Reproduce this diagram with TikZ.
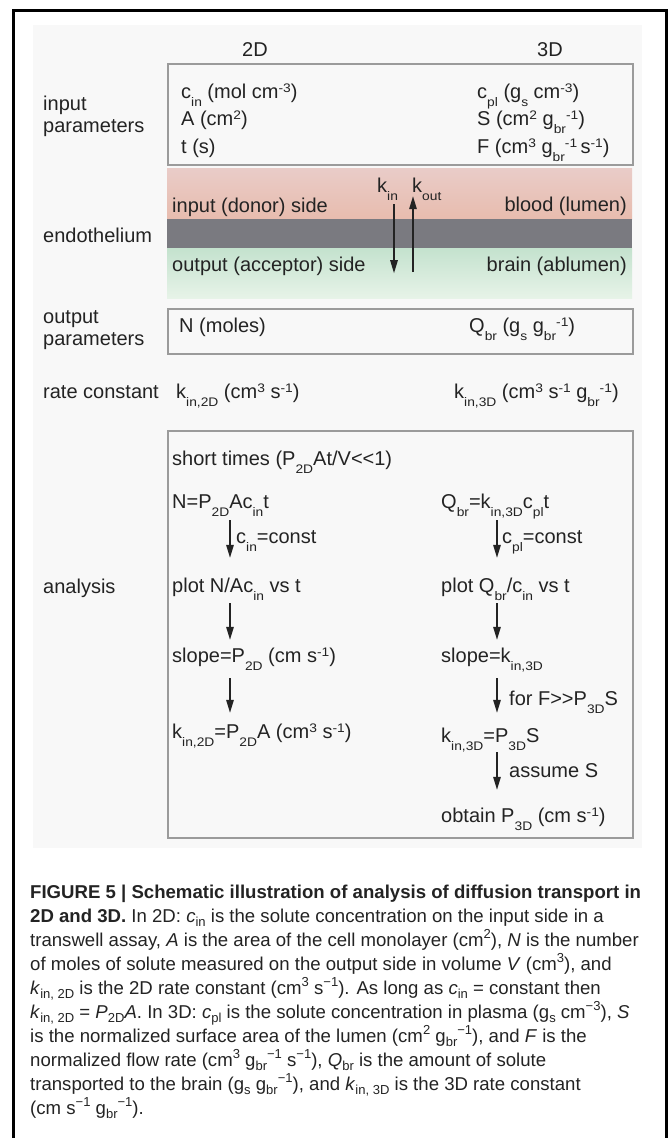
\documentclass[tikz,border=0pt]{standalone}
\usepackage{fontspec}
\setmainfont{Liberation Sans}
\newfontfamily\capfont{Liberation Sans}
\usepackage{graphicx}
\usetikzlibrary{arrows.meta,calc}
\newcommand{\sbs}[1]{\raisebox{-0.4em}{\scalebox{0.69}[0.62]{#1}}}
\newcommand{\sps}[1]{\raisebox{0.3em}{\scalebox{0.69}[0.62]{#1}}}
\newcommand{\csb}[1]{\raisebox{-0.22em}{\scalebox{0.7}{#1}}}
\newcommand{\csp}[1]{\raisebox{0.42em}{\scalebox{0.7}{#1}}}
\newcommand{\llt}{<\kern0pt<}
\newcommand{\ggt}{>\kern0pt>}
\definecolor{pinkT}{RGB}{233,204,200}
\definecolor{pinkB}{RGB}{232,188,174}
\definecolor{endogray}{RGB}{122,122,128}
\definecolor{greenT}{RGB}{196,226,206}
\definecolor{greenB}{RGB}{231,243,232}
\definecolor{boxgray}{RGB}{155,155,155}
\definecolor{bgc}{RGB}{248,248,248}
\definecolor{ink}{RGB}{35,35,35}
\begin{document}
\begin{tikzpicture}[x=1pt,y=-1pt,
  txt/.style={anchor=base west, inner sep=0pt, text height=15pt, text depth=5pt,
              font=\fontsize{20}{24}\selectfont, text=ink},
  hdr/.style={anchor=base, inner sep=0pt, font=\fontsize{20}{24}\selectfont, text=ink},
  pbox/.style={draw=boxgray, line width=2pt, anchor=north west, inner sep=0pt},
  band/.style={anchor=north west, inner sep=0pt, minimum width=465pt},
  arr/.style={line width=1.4pt, draw=ink, -{Triangle[length=13pt,width=7.5pt]}},
  captxt/.style={anchor=base west, inner sep=0pt, font=\capfont\fontsize{18.6}{22}\selectfont, text=ink}]
\useasboundingbox (0,0) rectangle (671,1138);
% background and frame
\fill[bgc] (33,25) rectangle (642,848);
\draw[line width=3pt] (13,1142) -- (13,10) -- (666,10) -- (666,1142);

% headers
\node[hdr] (h2) at (255,56) {2D};
\node[hdr] (h3) at (550,56) {3D};

% input parameters
\node[pbox, minimum width=465pt, minimum height=101pt] (inbox) at (167,63) {};
\node[txt] (lin1) at (43,110) {input};
\node[txt] (lin2) at (43,132) {parameters};
\node[txt] (i1) at (181,98) {c\sbs{in} (mol cm\sps{-3})};
\node[txt] (i2) at (181,125) {A (cm\sps{2})};
\node[txt] (i3) at (181,153) {t (s)};
\node[txt] (j1) at (477,98) {c\sbs{pl} (g\sbs{s} cm\sps{-3})};
\node[txt] (j2) at (477,125) {S (cm\sps{2} g\sbs{br}\sps{-1})};
\node[txt] (j3) at (477,153) {F (cm\sps{3} g\sbs{br}\sps{-1}\,s\sps{-1})};

% endothelium bands
\node[band, minimum height=51pt, top color=pinkT, bottom color=pinkB] (pink) at (167,168) {};
\node[band, minimum height=29pt, fill=endogray] (endo) at (167,219) {};
\node[band, minimum height=50pt, top color=greenT, bottom color=greenB] (green) at (167,248) {};
\node[txt] (lendo) at (43,242) {endothelium};
\node[txt] (donor) at (172,212) {input (donor) side};
\node[txt, anchor=base east] (blood) at (627,211) {blood (lumen)};
\node[txt] (acceptor) at (172,271) {output (acceptor) side};
\node[txt, anchor=base east] (brain) at (627,271) {brain (ablumen)};
\node[txt] (kin) at (377,192) {k\sbs{in}};
\node[txt] (kout) at (412,192) {k\sbs{out}};
\coordinate (xdn) at (394,0);
\coordinate (xup) at (413,0);
\draw[arr, shorten <=7pt] (kin.south -| xdn) -- (green.center -| xdn);
\draw[arr, shorten <=1pt, shorten >=-1pt] (green.center -| xup) -- (kout.south -| xup);

% output parameters
\node[pbox, minimum width=465pt, minimum height=45pt] (outbox) at (167,308) {};
\node[txt] (lout1) at (43,323) {output};
\node[txt] (lout2) at (43,345) {parameters};
\node[txt] (N) at (179,332) {N (moles)};
\node[txt] (Q) at (469,332) {Q\sbs{br} (g\sbs{s} g\sbs{br}\sps{-1})};

% rate constant
\node[txt] (lrate) at (43,398) {rate constant};
\node[txt] (k2) at (176,398) {k\sbs{in,2D} (cm\sps{3} s\sps{-1})};
\node[txt] (k3) at (454,398) {k\sbs{in,3D} (cm\sps{3} s\sps{-1} g\sbs{br}\sps{-1})};

% analysis
\node[pbox, minimum width=465pt, minimum height=407pt] (anbox) at (167,430) {};
\node[txt] (lana) at (43,593) {analysis};
\node[txt] (short) at (172,465) {short times (P\sbs{2D}At/V\llt1)};
\node[txt] (L1) at (172,508) {N=P\sbs{2D}Ac\sbs{in}t};
\node[txt] (R1) at (441,508) {Q\sbs{br}=k\sbs{in,3D}c\sbs{pl}t};
\node[txt] (L2) at (172,592) {plot N/Ac\sbs{in} vs t};
\node[txt] (R2) at (441,592) {plot Q\sbs{br}/c\sbs{in} vs t};
\node[txt] (L3) at (172,662) {slope=P\sbs{2D} (cm s\sps{-1})};
\node[txt] (R3) at (441,662) {slope=k\sbs{in,3D}};
\node[txt] (L4) at (172,738) {k\sbs{in,2D}=P\sbs{2D}A (cm\sps{3} s\sps{-1})};
\node[txt] (R4) at (441,742) {k\sbs{in,3D}=P\sbs{3D}S};
\node[txt] (R5) at (441,822) {obtain P\sbs{3D} (cm s\sps{-1})};
\node[txt] (lc1) at (236,543) {c\sbs{in}=const};
\node[txt] (lc2) at (502,543) {c\sbs{pl}=const};
\node[txt] (lc3) at (509,705) {for F\ggt P\sbs{3D}S};
\node[txt] (lc4) at (509,777) {assume S};
\coordinate (cl) at (230,0);
\coordinate (cr) at (497,0);
\draw[arr, shorten <=7pt, shorten >=19pt] (L1.south -| cl) -- (L2.north -| cl);
\draw[arr, shorten <=6pt, shorten >=7pt] (L2.south -| cl) -- (L3.north -| cl);
\draw[arr, shorten <=11pt, shorten >=10pt] (L3.south -| cl) -- (L4.north -| cl);
\draw[arr, shorten <=7pt, shorten >=19pt] (R1.south -| cr) -- (R2.north -| cr);
\draw[arr, shorten <=6pt, shorten >=7pt] (R2.south -| cr) -- (R3.north -| cr);
\draw[arr, shorten <=11pt, shorten >=14pt] (R3.south -| cr) -- (R4.north -| cr);
\draw[arr, shorten <=5pt, shorten >=17pt] (R4.south -| cr) -- (R5.north -| cr);

% caption
\node[captxt] (c1) at (30,898) {\bfseries FIGURE 5 | Schematic illustration of analysis of diffusion transport in};
\node[captxt] (c2) at (30,922) {{\bfseries 2D and 3D.} In 2D: \textit{c}\csb{in} is the solute concentration on the input side in a};
\node[captxt] (c3) at (30,946) {transwell assay, \textit{A} is the area of the cell monolayer (cm\csp{2}), \textit{N} is the number};
\node[captxt] (c4) at (30,970) {of moles of solute measured on the output side in volume \textit{V} (cm\csp{3}), and};
\node[captxt] (c5) at (30,994) {\textit{k}\csb{in, 2D} is the 2D rate constant (cm\csp{3} s\csp{−1}). As long as \textit{c}\csb{in} = constant then};
\node[captxt] (c6) at (30,1018) {\textit{k}\csb{in, 2D} = \textit{P}\csb{2D}\textit{A}. In 3D: \textit{c}\csb{pl} is the solute concentration in plasma (g\csb{s} cm\csp{−3}), \textit{S}};
\node[captxt] (c7) at (30,1042) {is the normalized surface area of the lumen (cm\csp{2} g\csb{br}\csp{−1}), and \textit{F} is the};
\node[captxt] (c8) at (30,1066) {normalized flow rate (cm\csp{3} g\csb{br}\csp{−1} s\csp{−1}), \textit{Q}\csb{br} is the amount of solute};
\node[captxt] (c9) at (30,1090) {transported to the brain (g\csb{s} g\csb{br}\csp{−1}), and \textit{k}\csb{in, 3D} is the 3D rate constant};
\node[captxt] (c10) at (30,1114) {(cm s\csp{−1} g\csb{br}\csp{−1}).};
\end{tikzpicture}
\end{document}
